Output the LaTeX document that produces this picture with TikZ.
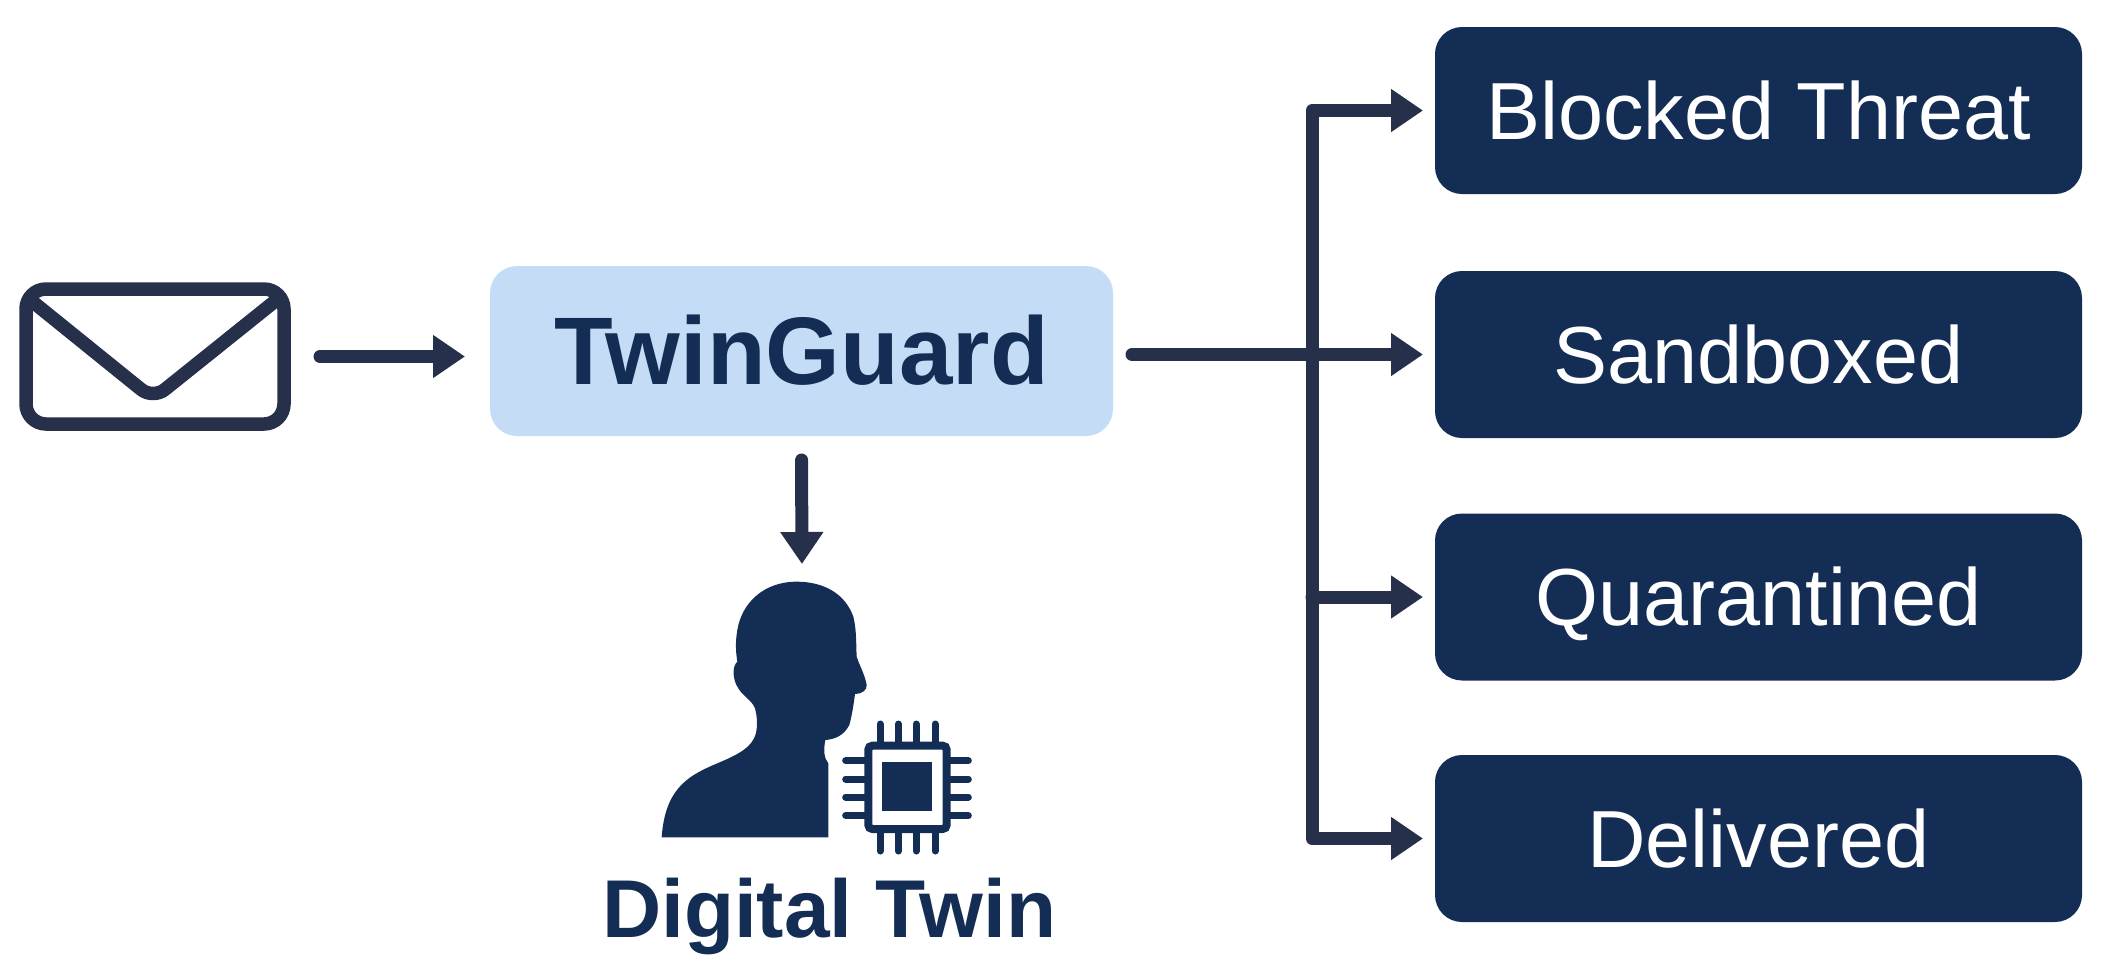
\documentclass[tikz,border=0pt]{standalone}
\usepackage{fontspec}
\setmainfont{Liberation Sans}
\usetikzlibrary{arrows.meta}
\definecolor{navy}{HTML}{132D54}
\definecolor{ink}{HTML}{27304A}
\definecolor{pale}{HTML}{C5DCF7}
\tikzset{
  conn/.style={draw=ink,line width=13pt,line cap=round,line join=round,-{Triangle[length=32pt,width=41pt]}},
  outcome/.style={fill=navy,text=white,rounded corners=27pt,minimum width=647pt,minimum height=167pt,inner sep=0pt,outer sep=0pt,
    font=\fontsize{81}{90}\selectfont,text height=57pt,text depth=0pt},
  engine/.style={fill=pale,text=navy,rounded corners=27pt,minimum width=623pt,minimum height=170pt,inner sep=0pt,outer sep=0pt,
    font=\fontsize{96}{100}\selectfont\bfseries,text height=67pt,text depth=-6pt},
  mailicon/.style={draw=ink,line width=13.5pt,rounded corners=20pt,minimum width=258pt,minimum height=135pt,inner sep=0pt,outer sep=0pt},
  stroke/.style={draw=ink,line width=13.5pt,line join=round},
  pin/.style={draw=navy,line width=7pt,line cap=round},
}
\begin{document}
\begin{tikzpicture}[x=1pt,y=-1pt]
\useasboundingbox (0,0) rectangle (2104,970);
% nodes
\node[outcome] (blocked) at (1758.5,110.5) {Blocked Threat};
\node[outcome] (sand) at (1758.5,354.5) {Sandboxed};
\node[outcome] (quar) at (1758.5,597) {Quarantined};
\node[outcome] (deliv) at (1758.5,838.5) {Delivered};
\node[engine] (tg) at (801.5,351) {TwinGuard};
\node[mailicon] (mail) at (155,356.5) {};
\draw[stroke] (28,298) [rounded corners=15pt] -- (153,399) -- (279,298);
\coordinate (trunk) at (1312,354.5);
\coordinate (head) at (802,582);
% person and chip, in the coordinates of a 3x crop
\begin{scope}[shift={(600,560)},x=0.33333pt,y=-0.33333pt]
\fill[navy] (185,832) -- (685,832) -- (685,610)
  .. controls (672,595) and (670,570) .. (676,540)
  .. controls (700,538) and (730,530) .. (748,495)
  .. controls (755,470) and (760,440) .. (765,402)
  .. controls (785,402) and (802,390) .. (800,375)
  .. controls (795,345) and (780,320) .. (770,290)
  .. controls (768,250) and (770,210) .. (760,170)
  .. controls (735,100) and (670,65) .. (590,65)
  .. controls (490,65) and (425,130) .. (412,210)
  .. controls (405,250) and (408,280) .. (412,305)
  .. controls (395,320) and (398,360) .. (415,385)
  .. controls (430,410) and (455,420) .. (465,445)
  .. controls (472,470) and (475,510) .. (462,535)
  .. controls (445,570) and (400,590) .. (340,615)
  .. controls (260,650) and (195,690) .. (185,832) -- cycle;
\draw[navy,line width=8pt,rounded corners=4pt] (805,557) rectangle (1040,807);
\fill[navy] (845,605) rectangle (995,752);
\foreach \px in {840,895,948,1005}{
  \draw[pin] (\px,492) -- (\px,545);
  \draw[pin] (\px,820) -- (\px,873);
}
\foreach \py in {602,657,711,767}{
  \draw[pin] (737,\py) -- (795,\py);
  \draw[pin] (1050,\py) -- (1105,\py);
}
\end{scope}
\node[anchor=base,text=navy,font=\fontsize{82}{85}\selectfont\bfseries,inner sep=0pt] (twin) at (829,937) {Digital Twin};
% connectors
\draw[conn,shorten <=36pt,shorten >=25pt] (mail.east) -- (mail.east -| tg.west);
\draw[conn,shorten <=19pt,shorten >=12pt] (tg.east |- sand.west) -- (sand.west);
\draw[conn,shorten <=24pt,shorten >=18pt] (tg.south) -- (head);
\draw[conn,shorten >=12pt] (trunk) |- (blocked.west);
\draw[conn,shorten >=12pt] (trunk |- quar.west) -- (quar.west);
\draw[conn,shorten >=12pt] (trunk) |- (deliv.west);
\end{tikzpicture}
\end{document}
